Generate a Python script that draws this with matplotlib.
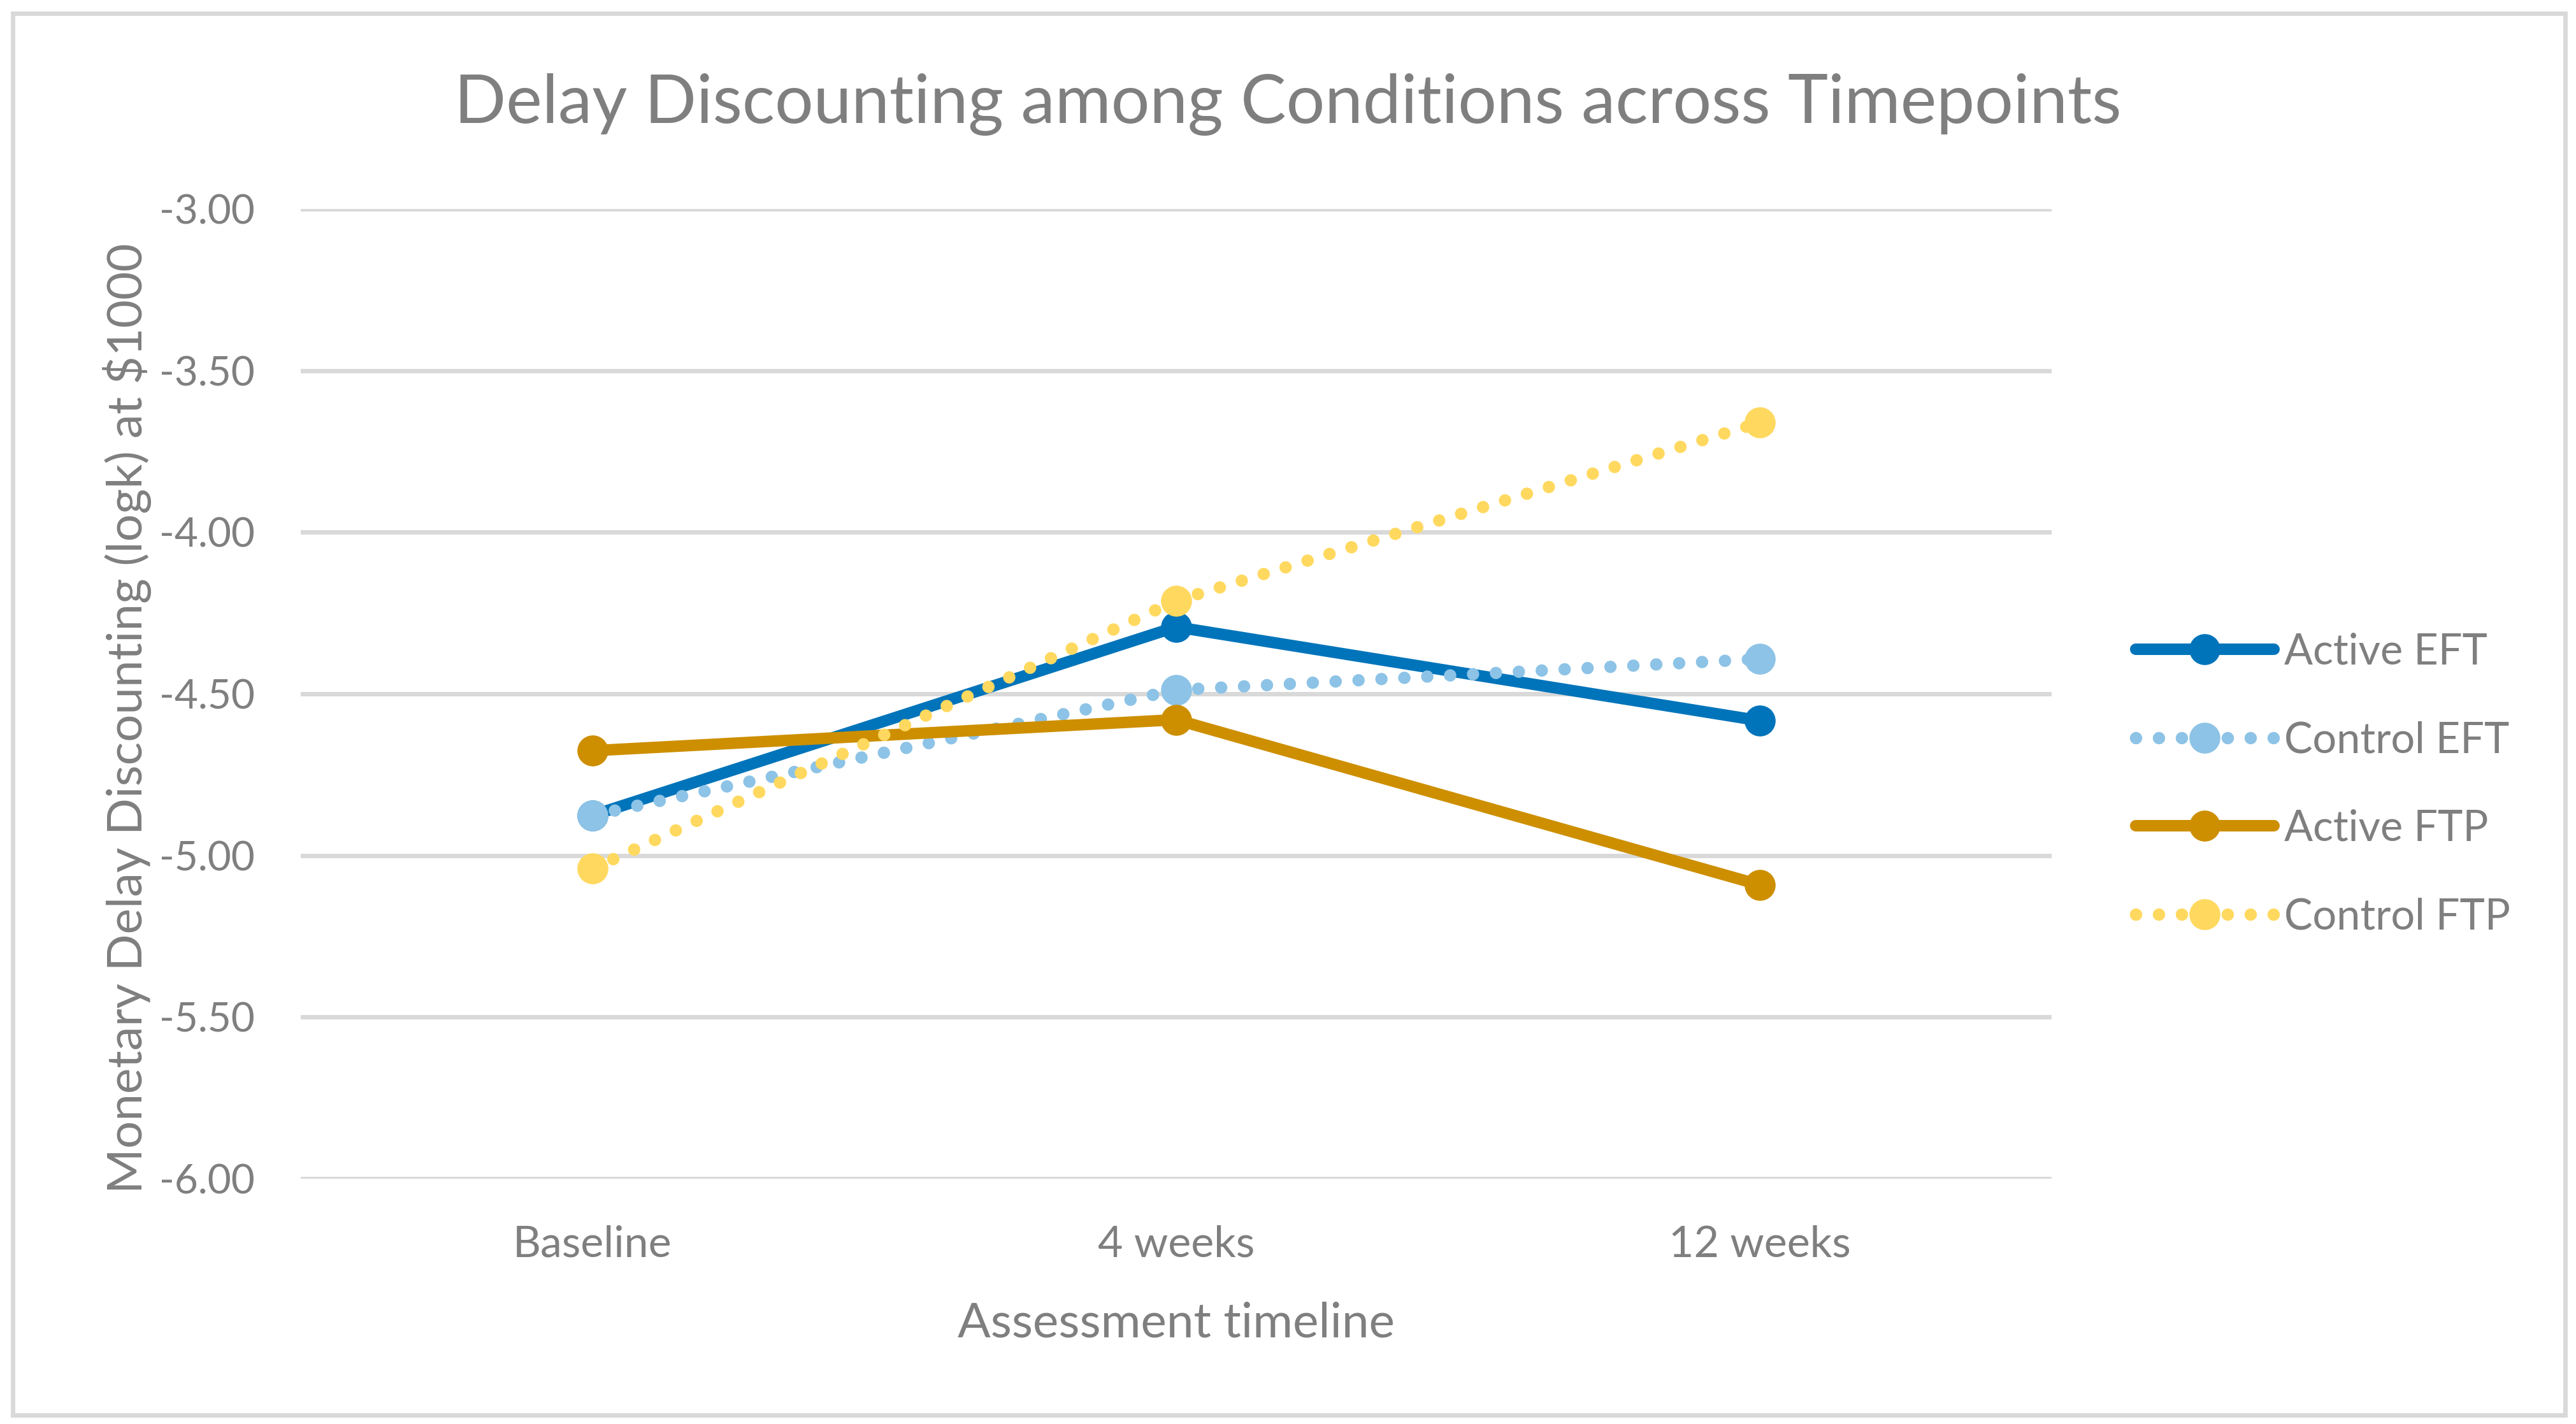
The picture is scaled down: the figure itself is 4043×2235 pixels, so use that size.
import matplotlib
matplotlib.use("Agg")
import matplotlib.pyplot as plt
from matplotlib.patches import Rectangle

plt.rcParams['font.family'] = ['Lato', 'DejaVu Sans']

# data
timepoints = ["Baseline", "4 weeks", "12 weeks"]
active_eft = [-4.876, -4.293, -4.583]
control_eft = [-4.876, -4.488, -4.392]
active_ftp = [-4.676, -4.580, -5.091]
control_ftp = [-5.041, -4.212, -3.661]
y_ticks = [-3.0, -3.5, -4.0, -4.5, -5.0, -5.5, -6.0]

text_grey = "#7F7F7F"
grid_grey = "#D9D9D9"

fig = plt.figure(figsize=(40.43, 22.35), dpi=100)
ax = fig.add_axes([0.1167, 0.1723, 0.6797, 0.6809])

x = list(range(len(timepoints)))
dotted = (0, (0.001, 1.85))

ax.plot(x, active_eft, color="#0074BA", lw=13, marker="o", ms=34,
        solid_capstyle="round", label="Active EFT")
ax.plot(x, control_eft, color="#8DC3E6", lw=14, ls=dotted, dash_capstyle="round",
        marker="o", ms=34, label="Control EFT")
ax.plot(x, active_ftp, color="#CD8F00", lw=13, marker="o", ms=34,
        solid_capstyle="round", label="Active FTP")
ax.plot(x, control_ftp, color="#FFD95F", lw=14, ls=dotted, dash_capstyle="round",
        marker="o", ms=34, label="Control FTP")

ax.set_xlim(-0.5, 2.5)
ax.set_ylim(-6, -3)
ax.set_xticks(x)
ax.set_xticklabels(timepoints)
ax.set_yticks(y_ticks)
ax.set_yticklabels([f"{v:.2f}" for v in y_ticks])
ax.tick_params(length=0, labelsize=46, labelcolor=text_grey)
ax.tick_params(axis="x", labelsize=49, pad=52)
ax.tick_params(axis="y", pad=52)
ax.grid(axis="y", color=grid_grey, lw=5)
ax.set_axisbelow(True)
for s in ax.spines.values():
    s.set_visible(False)

ax.set_xlabel("Assessment timeline", fontsize=55, color=text_grey, labelpad=42)
ax.set_ylabel("Monetary Delay Discounting (logk) at $1000", fontsize=55, color=text_grey)
ax.yaxis.set_label_coords(-0.099, 0.475)
ax.yaxis.label.set_va("center")

fig.text(0.5, 0.9136, "Delay Discounting among Conditions across Timepoints",
         fontsize=77, color=text_grey, ha="center", va="baseline")

leg = ax.legend(loc="center left", bbox_to_anchor=(0.8225, 0.449), bbox_transform=fig.transFigure,
                frameon=False, fontsize=48, handlelength=3.25, handletextpad=0.25,
                labelspacing=1.15, borderaxespad=0)
for t in leg.get_texts():
    t.set_color(text_grey)

fig.patches.append(Rectangle((20 / 4043, 14 / 2235), 1 - 37 / 4043, 1 - 35 / 2235,
                             transform=fig.transFigure, fill=False,
                             edgecolor=grid_grey, lw=5))

fig.savefig("out.png", dpi=100, facecolor="white")
